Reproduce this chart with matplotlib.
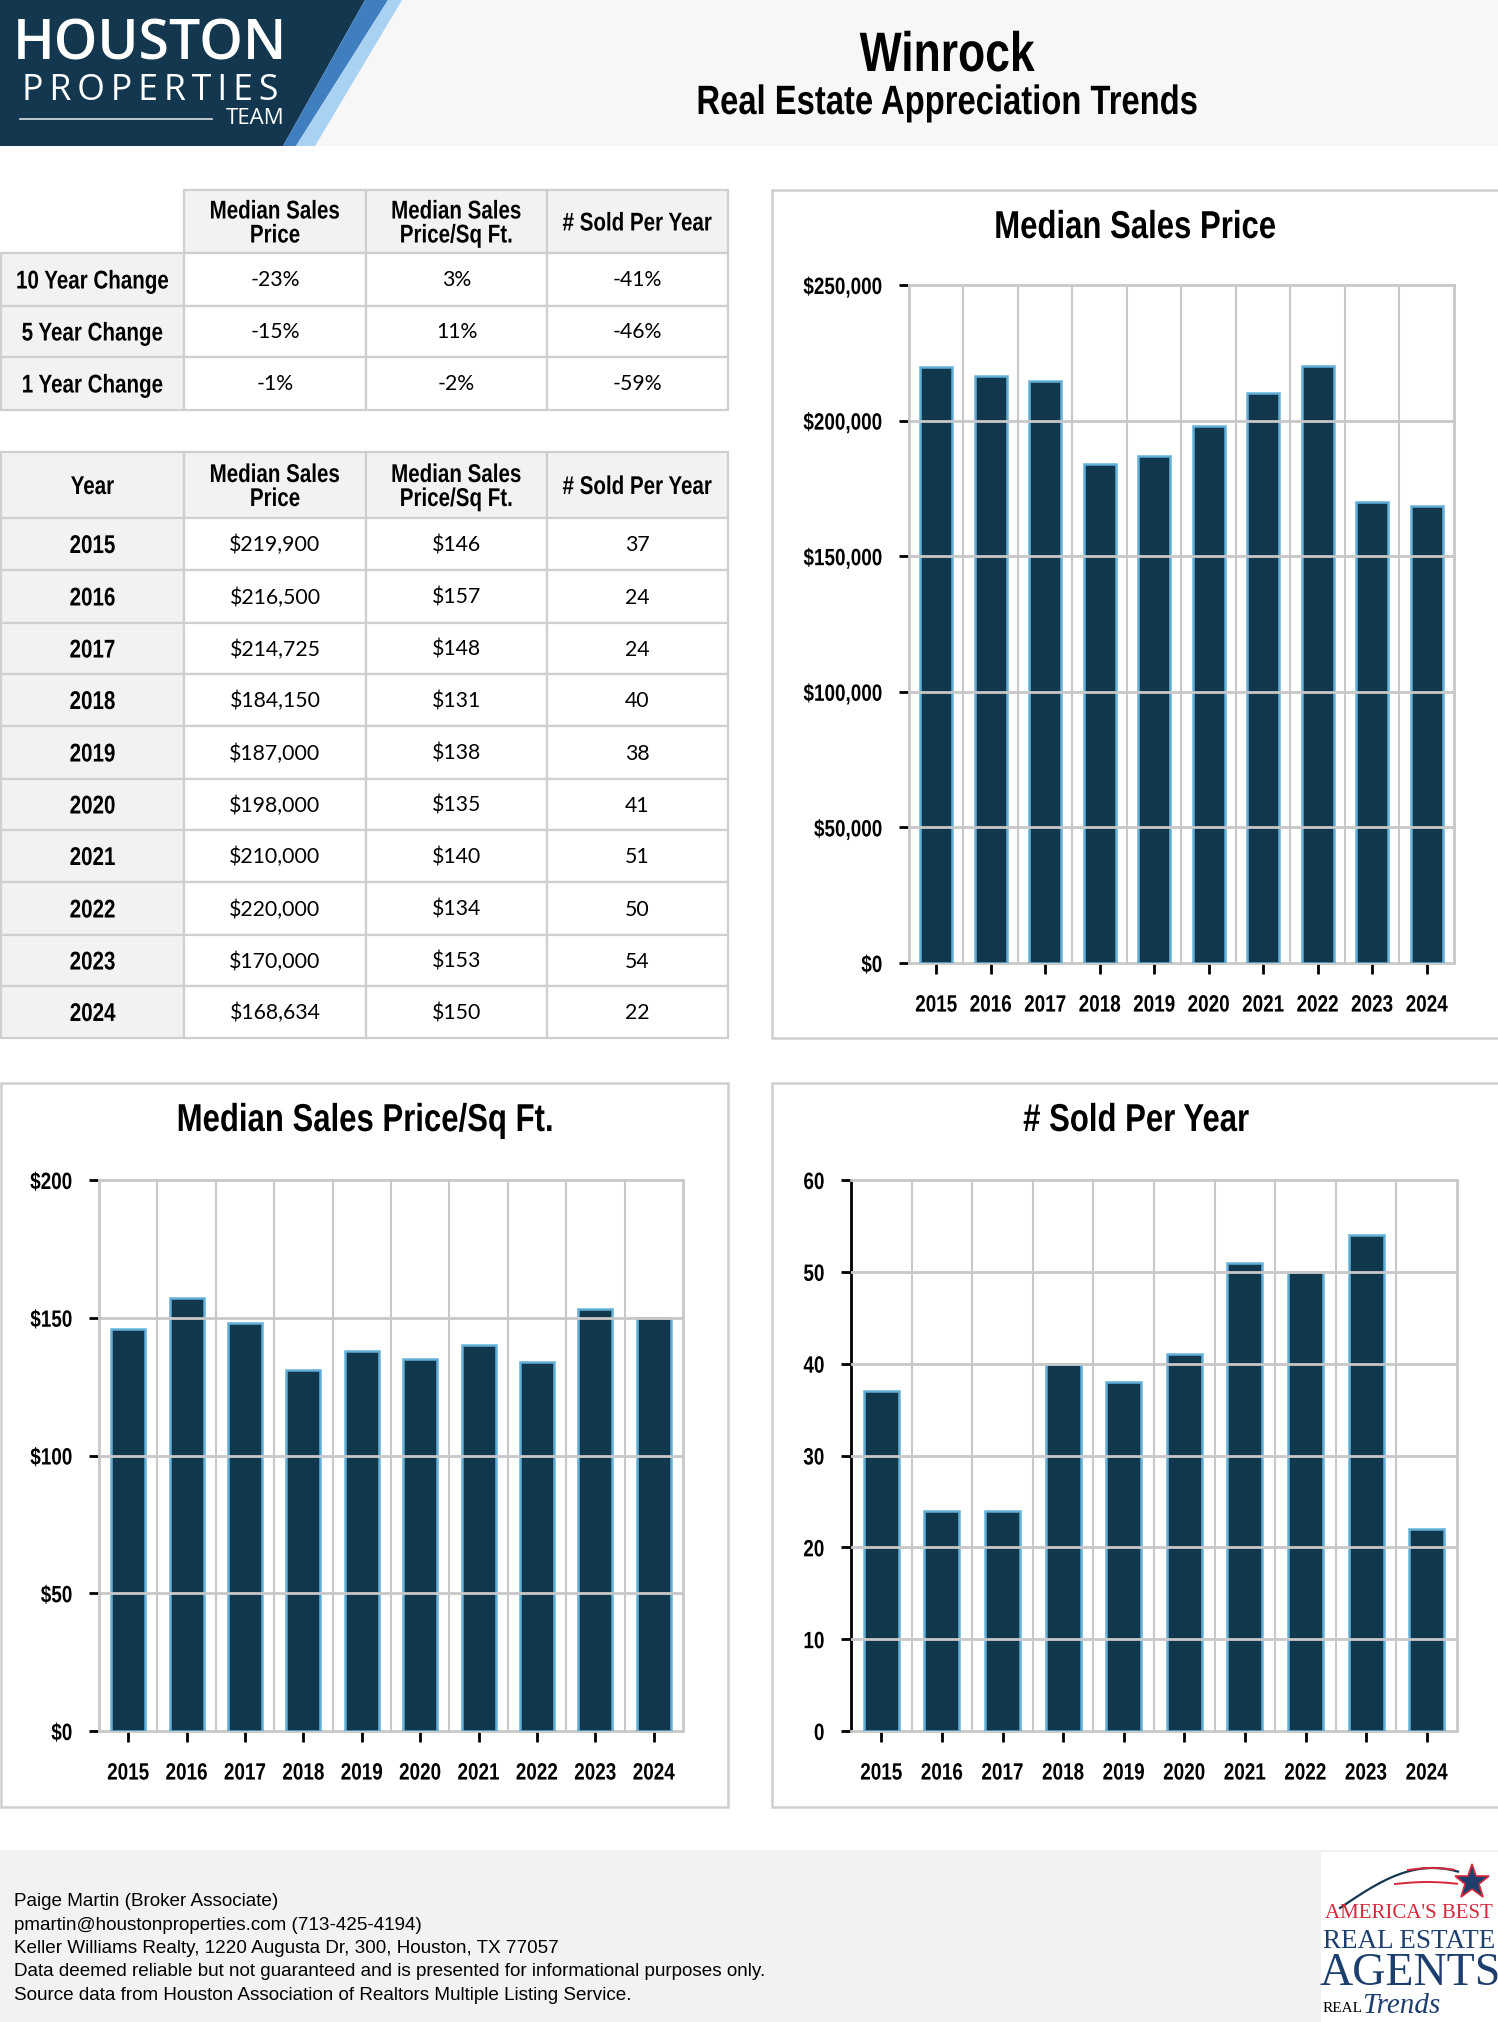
import matplotlib
matplotlib.use("Agg")
import matplotlib.pyplot as plt
import numpy as np
from matplotlib.patches import Polygon, Rectangle
from matplotlib.patheffects import AbstractPathEffect
from matplotlib.ticker import FuncFormatter
from matplotlib.transforms import Affine2D

# ---- data ----
years = ["2015", "2016", "2017", "2018", "2019", "2020", "2021", "2022", "2023", "2024"]
median_price = [219900, 216500, 214725, 184150, 187000, 198000, 210000, 220000, 170000, 168634]
price_sqft = [146, 157, 148, 131, 138, 135, 140, 134, 153, 150]
sold_per_year = [37, 24, 24, 40, 38, 41, 51, 50, 54, 22]

change_rows = ["10 Year Change", "5 Year Change", "1 Year Change"]
change_price = ["-23%", "-15%", "-1%"]
change_sqft = ["3%", "11%", "-2%"]
change_sold = ["-41%", "-46%", "-59%"]

col_headers = ["Median Sales\nPrice", "Median Sales\nPrice/Sq Ft.", "# Sold Per Year"]

footer_lines = [
    "Paige Martin (Broker Associate)",
    "pmartin@houstonproperties.com (713-425-4194)",
    "Keller Williams Realty, 1220 Augusta Dr, 300, Houston, TX 77057",
    "Data deemed reliable but not guaranteed and is presented for informational purposes only.",
    "Source data from Houston Association of Realtors Multiple Listing Service.",
]

# ---- style ----
SANS = "Liberation Sans"
NAVY = "#12374e"
BAR = "#11374d"
EDGE = "#62b0d8"
GRID = "#c8c8c8"
BORDER = "#cfcfcf"
CELL_GRAY = "#f2f2f2"
SQ = 0.8  # horizontal squeeze to mimic a narrow typeface


class Narrow(AbstractPathEffect):
    """Squeeze text glyphs horizontally around the chosen anchor."""

    def __init__(self, sx=SQ, anchor="center"):
        super().__init__()
        self.sx = sx
        self.anchor = anchor

    def draw_path(self, renderer, gc, tpath, affine, rgbFace=None):
        ext = affine.transform_path(tpath).get_extents()
        if self.anchor == "left":
            cx = ext.x0
        elif self.anchor == "right":
            cx = ext.x1
        else:
            cx = (ext.x0 + ext.x1) / 2
        squeeze = Affine2D().translate(-cx, 0).scale(self.sx, 1).translate(cx, 0)
        renderer.draw_path(gc, tpath, affine + squeeze, rgbFace)


W, H = 1498, 2022
fig = plt.figure(figsize=(W / 100, H / 100), dpi=100)
fig.patch.set_facecolor("white")

bg = fig.add_axes([0, 0, 1, 1])
bg.set_xlim(0, W)
bg.set_ylim(H, 0)
bg.axis("off")


def px_axes(x0, y0, x1, y1):
    return fig.add_axes([x0 / W, 1 - y1 / H, (x1 - x0) / W, (y1 - y0) / H])


def ntext(x, y, s, size, anchor="center", **kw):
    return bg.text(x, y, s, fontsize=size, fontfamily=SANS, ha=anchor, va="center",
                   path_effects=[Narrow(SQ, anchor)], **kw)


# ---- header ----
bg.add_patch(Rectangle((0, 0), W, 146, facecolor="#f7f7f7", edgecolor="none"))
bg.add_patch(Polygon([(0, 0), (365, 0), (283, 146), (0, 146)], facecolor=NAVY, edgecolor="none"))
bg.add_patch(Polygon([(365, 0), (388, 0), (296, 146), (283, 146)], facecolor="#3f7fbf", edgecolor="none"))
bg.add_patch(Polygon([(388, 0), (402, 0), (315, 146), (296, 146)], facecolor="#a9d1f2", edgecolor="none"))

bg.text(150, 46, "HOUSTON", color="white", fontsize=40, fontfamily="Open Sans",
        fontweight="semibold", ha="center", va="center")
bg.text(150, 91, "\u2009".join("PROPERTIES"), color="white", fontsize=25.7,
        fontfamily=["Open Sans", "DejaVu Sans"], fontweight="medium", ha="center", va="center")
bg.plot([20, 212], [119, 119], color="white", lw=1.2, alpha=0.85)
bg.text(284, 119, "TEAM", color="white", fontsize=16, fontfamily="Open Sans",
        ha="right", va="center")

ntext(947, 57, "Winrock", 40, fontweight="bold")
ntext(947, 103, "Real Estate Appreciation Trends", 29.5, fontweight="bold")


# ---- tables ----
def draw_table(x_edges, y_edges, cells, skip_corner=False):
    for r in range(len(y_edges) - 1):
        for c in range(len(x_edges) - 1):
            if skip_corner and r == 0 and c == 0:
                continue
            x0, x1 = x_edges[c], x_edges[c + 1]
            y0, y1 = y_edges[r], y_edges[r + 1]
            face = CELL_GRAY if (r == 0 or c == 0) else "white"
            bg.add_patch(Rectangle((x0, y0), x1 - x0, y1 - y0, facecolor=face,
                                   edgecolor=BORDER, lw=1.6))
            txt = cells[r][c]
            if not txt:
                continue
            if r == 0 or c == 0:
                ntext((x0 + x1) / 2, (y0 + y1) / 2 + 2, txt, 18.5, fontweight="bold",
                      linespacing=1.0)
            else:
                bg.text((x0 + x1) / 2, (y0 + y1) / 2 + 1, txt, fontsize=15.3, fontfamily="Lato",
                        ha="center", va="center")


x_edges = [1, 184, 366, 547, 728]

cells1 = [[""] + col_headers]
for i, name in enumerate(change_rows):
    cells1.append([name, change_price[i], change_sqft[i], change_sold[i]])
draw_table(x_edges, [190, 253, 306, 357, 410], cells1, skip_corner=True)

cells2 = [["Year"] + col_headers]
for i, yr in enumerate(years):
    cells2.append([yr, f"${median_price[i]:,}", f"${price_sqft[i]}", str(sold_per_year[i])])
y_edges2 = [452, 518, 570, 623, 674, 726, 779, 830, 882, 935, 986, 1038]
draw_table(x_edges, y_edges2, cells2)


# ---- bar charts ----
def bar_chart(box, rect, title_x, title, values, ymax, step, fmt, black_left=False):
    bx0, by0, bx1, by1 = box
    bg.add_patch(Rectangle((bx0, by0), bx1 - bx0, by1 - by0, facecolor="white",
                           edgecolor=BORDER, lw=1.8))
    ntext(title_x, by0 + 38, title, 28, fontweight="bold")
    ax = px_axes(*rect)
    x = np.arange(len(years))
    ax.bar(x, values, width=0.58, color=BAR, edgecolor=EDGE, linewidth=1.8, zorder=3)
    ax.set_xlim(-0.5, len(years) - 0.5)
    ax.set_ylim(0, ymax)
    ticks = np.arange(0, ymax + 1, step)
    ax.set_yticks(ticks)
    ax.yaxis.set_major_formatter(FuncFormatter(fmt))
    ax.set_xticks(x)
    ax.set_xticklabels(years)
    for xb in np.arange(0.5, len(years) - 0.5):
        ax.axvline(xb, color=GRID, lw=1.5, zorder=1)
    for t in ticks[1:-1]:
        ax.axhline(t, color=GRID, lw=2, zorder=4)
    for s in ax.spines.values():
        s.set_color(GRID)
        s.set_linewidth(2)
    if black_left:
        ax.spines["left"].set_color("black")
    ax.tick_params(axis="y", length=7, width=2, color="black", pad=12, labelsize=17)
    ax.tick_params(axis="x", length=8, width=2, color="black", pad=14, labelsize=17)
    for lab in ax.get_xticklabels():
        lab.set_fontfamily(SANS)
        lab.set_fontweight("bold")
        lab.set_path_effects([Narrow(SQ, "center")])
    for lab in ax.get_yticklabels():
        lab.set_fontfamily(SANS)
        lab.set_fontweight("bold")
        lab.set_path_effects([Narrow(SQ, "right")])
    return ax


bar_chart((772, 190, 1500, 1038), (909, 285, 1454, 963), 1135, "Median Sales Price",
          median_price, 250000, 50000, lambda v, _: f"${v:,.0f}")
bar_chart((1, 1083, 728, 1807), (99, 1180, 683, 1731), 365, "Median Sales Price/Sq Ft.",
          price_sqft, 200, 50, lambda v, _: f"${v:.0f}")
bar_chart((772, 1083, 1500, 1807), (851, 1180, 1457, 1731), 1136, "# Sold Per Year",
          sold_per_year, 60, 10, lambda v, _: f"{v:.0f}", black_left=True)

# ---- footer ----
bg.add_patch(Rectangle((0, 1850), W, H - 1850, facecolor=CELL_GRAY, edgecolor="none"))
for i, line in enumerate(footer_lines):
    bg.text(14, 1902 + i * 23.3, line, fontsize=13.6, fontfamily=SANS, ha="left", va="center")

# right logo
bg.add_patch(Rectangle((1321, 1852), W - 1321, H - 1852, facecolor="white", edgecolor="none"))
t = np.linspace(0, 1, 50)
bg.plot(1340 + 118 * t, 1908 - 40 * np.sin(t * 2.0), color=NAVY, lw=1.6)
bg.plot(1408 + 46 * t, 1870 - 2 * np.sin(t * 3), color="#d6283b", lw=1.4)
bg.plot(1395 + 62 * t, 1884 - 2 * np.sin(t * 3), color="#d6283b", lw=1.4)
bg.plot([1472], [1882], marker="*", markersize=26, color="#1d3f6e",
        markeredgecolor="#d6283b", markeredgewidth=1.2)
bg.text(1409, 1914, "AMERICA'S BEST", color="#d6283b", fontsize=15,
        fontfamily="Liberation Serif", ha="center", va="center")
bg.text(1409, 1941, "REAL ESTATE", color="#1d3f6e", fontsize=19.5,
        fontfamily="Liberation Serif", ha="center", va="center")
bg.text(1410, 1974, "AGENTS", color="#1d3f6e", fontsize=33,
        fontfamily="Liberation Serif", ha="center", va="center")
bg.text(1323, 2008, "REAL", color="black", fontsize=11,
        fontfamily="Liberation Serif", ha="left", va="center")
bg.text(1362, 2006, "Trends", color="#1d3f6e", fontsize=21, style="italic",
        fontfamily="Liberation Serif", ha="left", va="center")

fig.savefig("out.png", dpi=100)
